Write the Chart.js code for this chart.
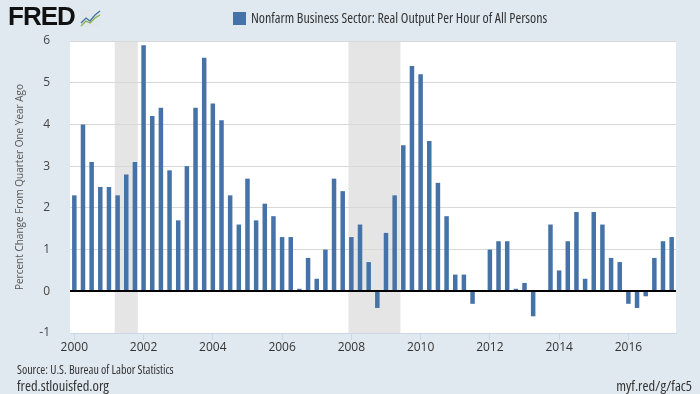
<!DOCTYPE html>
<html>
<head>
<meta charset="utf-8">
<script src="https://cdn.jsdelivr.net/npm/chart.js@4.4.1/dist/chart.umd.min.js"></script>
<style>
  html, body { margin: 0; padding: 0; background: #e1e9f0; }
  #wrap { position: relative; width: 700px; height: 394px; background: #e1e9f0;
          font-family: "Open Sans", sans-serif; font-stretch: condensed; color: #333; }
  #chart { position: absolute; left: 0; top: 0; }
  .txt { position: absolute; white-space: nowrap; }
  #logo { left: 8px; top: 1px; font-family: "Liberation Sans", sans-serif; font-weight: bold;
          font-size: 26px; letter-spacing: -1px; color: #111; font-stretch: normal; }
  #logo svg { position: absolute; left: 72px; top: 9px; }
  #legend { left: 233px; top: 8px; font-size: 14px; color: #333; }
  #legend span.box { display: inline-block; width: 13px; height: 13px; background: #4572a7;
                     vertical-align: -2px; margin-right: 5px; }
  #source { left: 17px; top: 361px; font-size: 12px; color: #333; }
  #site { left: 17px; top: 376px; font-size: 14.5px; color: #333; }
  #short { right: 8px; top: 376px; font-size: 14.5px; color: #333; }
</style>
</head>
<body>
<div id="wrap">
  <canvas id="chart" width="700" height="394"></canvas>
  <div class="txt" id="logo">FRED<svg width="21" height="17" viewBox="0 0 21 17">
    <rect x="0" y="0" width="21" height="17" fill="#dfe6ec"/>
    <polyline points="1,13 6,8 10,11 15,5 20,1" fill="none" stroke="#4572a7" stroke-width="1.3"/>
    <polyline points="1,16 6,11 10,13 15,8 20,5" fill="none" stroke="#8ab04a" stroke-width="1.3"/>
  </svg></div>
  <div class="txt" id="legend"><span class="box"></span>Nonfarm Business Sector: Real Output Per Hour of All Persons</div>
  <div class="txt" id="source">Source: U.S. Bureau of Labor Statistics</div>
  <div class="txt" id="site">fred.stlouisfed.org</div>
  <div class="txt" id="short">myf.red/g/fac5</div>
</div>
<script>
// quarters 2000 Q1 .. 2017 Q2
const years = [];
for (let y = 2000; y <= 2017; y++) years.push(y);
const quarters = [];
years.forEach(y => ['Q1', 'Q2', 'Q3', 'Q4'].forEach(q => quarters.push(y + ' ' + q)));
quarters.length = 70;

// percent change from quarter one year ago
const productivity = [
  2.3, 4.0, 3.1, 2.5,   // 2000
  2.5, 2.3, 2.8, 3.1,   // 2001
  5.9, 4.2, 4.4, 2.9,   // 2002
  1.7, 3.0, 4.4, 5.6,   // 2003
  4.5, 4.1, 2.3, 1.6,   // 2004
  2.7, 1.7, 2.1, 1.8,   // 2005
  1.3, 1.3, 0.06, 0.8,  // 2006
  0.3, 1.0, 2.7, 2.4,   // 2007
  1.3, 1.6, 0.7, -0.4,  // 2008
  1.4, 2.3, 3.5, 5.4,   // 2009
  5.2, 3.6, 2.6, 1.8,   // 2010
  0.4, 0.4, -0.3, 0.0,  // 2011
  1.0, 1.2, 1.2, 0.06,  // 2012
  0.2, -0.6, 0.0, 1.6,  // 2013
  0.5, 1.2, 1.9, 0.3,   // 2014
  1.9, 1.6, 0.8, 0.7,   // 2015
  -0.3, -0.4, -0.12, 0.8, // 2016
  1.2, 1.3              // 2017
];

const yearTicks = ['2000', '2002', '2004', '2006', '2008', '2010', '2012', '2014', '2016'];
const yTicks = [-1, 0, 1, 2, 3, 4, 5, 6];

// recessions as [start, end] in fractional years
const recessions = [
  [2001.167, 2001.833],
  [2007.917, 2009.417]
];

const toIndex = yr => (yr - 2000) * 4;

const backdrop = {
  id: 'backdrop',
  beforeDraw(chart) {
    const { ctx, chartArea: a, scales } = chart;
    ctx.save();
    ctx.fillStyle = '#ffffff';
    ctx.fillRect(a.left, a.top, a.right - a.left, a.bottom - a.top);
    ctx.fillStyle = '#e5e5e5';
    recessions.forEach(([s, e]) => {
      const x1 = scales.x.getPixelForValue(toIndex(s));
      const x2 = scales.x.getPixelForValue(toIndex(e));
      ctx.fillRect(x1, a.top, x2 - x1, a.bottom - a.top);
    });
    ctx.restore();
  },
  afterDatasetsDraw(chart) {
    const { ctx, chartArea: a, scales } = chart;
    const y0 = Math.round(scales.y.getPixelForValue(0));
    ctx.save();
    ctx.strokeStyle = '#000';
    ctx.lineWidth = 2;
    ctx.beginPath();
    ctx.moveTo(a.left, y0);
    ctx.lineTo(a.right, y0);
    ctx.stroke();
    ctx.restore();
  }
};

const tickFont = { family: '"Open Sans", sans-serif', size: 12 };

new Chart(document.getElementById('chart'), {
  type: 'bar',
  data: {
    labels: quarters,
    datasets: [{
      label: 'Nonfarm Business Sector: Real Output Per Hour of All Persons',
      data: productivity,
      backgroundColor: '#4572a7',
      borderWidth: 0,
      barPercentage: 0.52,
      categoryPercentage: 1
    }]
  },
  options: {
    responsive: false,
    animation: false,
    layout: { padding: { top: 41, right: 24, left: 0, bottom: 0 } },
    plugins: {
      legend: { display: false },
      tooltip: { enabled: false }
    },
    scales: {
      x: {
        offset: true,
        afterFit(scale) { scale.height = 61; },
        grid: { offset: false, drawOnChartArea: false, tickLength: 7, color: '#ccd6eb' },
        border: { color: '#ccd6eb' },
        ticks: {
          autoSkip: false, maxRotation: 0, padding: 0, color: '#333', font: tickFont,
          callback(v, i) {
            const [yr, q] = quarters[i].split(' ');
            return q === 'Q1' && yearTicks.includes(yr) ? yr : null;
          }
        }
      },
      y: {
        min: -1, max: 6,
        afterFit(scale) { scale.width = 70; },
        afterBuildTicks(scale) { scale.ticks = yTicks.map(v => ({ value: v })); },
        grid: { drawTicks: false, color: '#d8d8d8' },
        border: { display: false },
        ticks: { padding: 20, color: '#444', font: tickFont },
        title: {
          display: true,
          text: 'Percent Change From Quarter One Year Ago',
          color: '#555',
          font: { family: '"Open Sans", sans-serif', size: 10 },
          padding: { top: 14, bottom: 0 }
        }
      }
    }
  },
  plugins: [backdrop]
});
</script>
</body>
</html>
